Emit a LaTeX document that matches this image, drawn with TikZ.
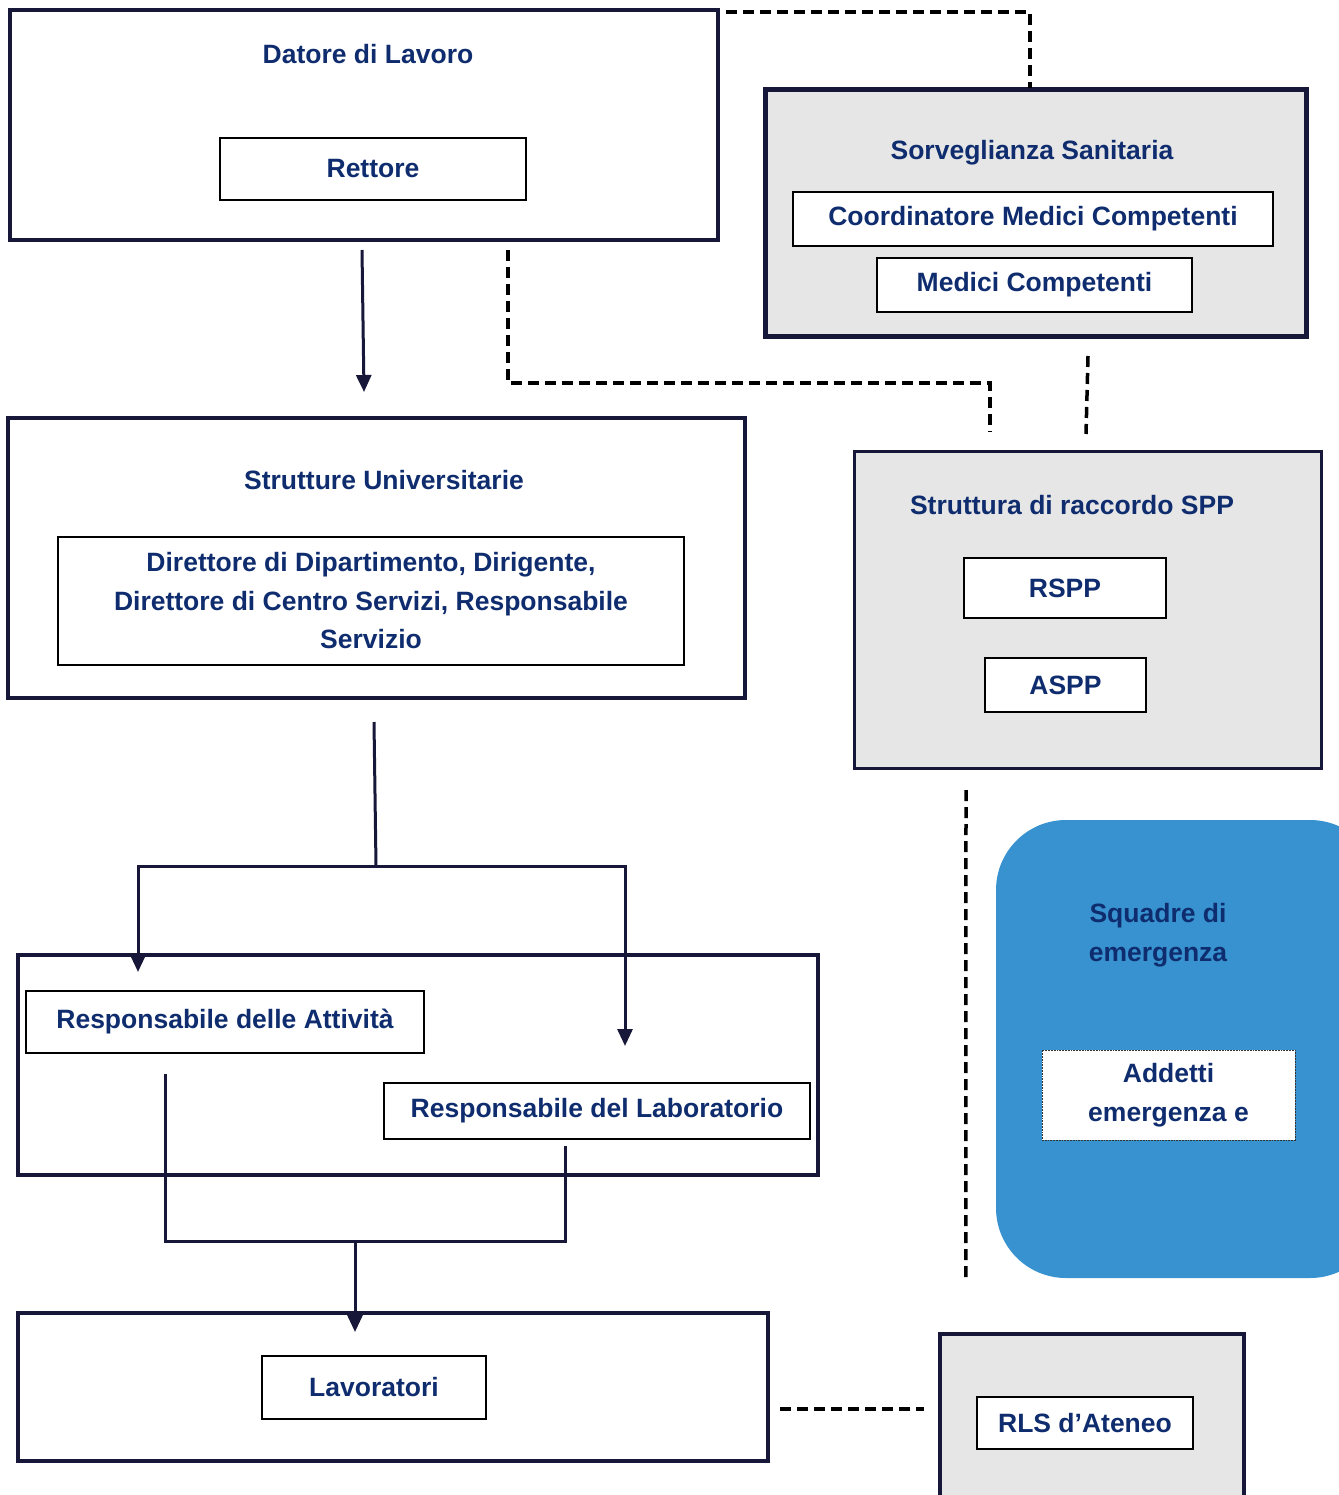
\documentclass[tikz,border=0pt]{standalone}
\usepackage{fontspec}
\setmainfont{Liberation Sans}
\usetikzlibrary{arrows.meta}

\definecolor{navy}{HTML}{0F2D6E}
\definecolor{boxline}{HTML}{17173A}
\definecolor{greyfill}{HTML}{E6E6E6}
\definecolor{squadblue}{HTML}{3792CF}

\newcommand{\lbl}{\bfseries\fontsize{26.5}{38.5}\selectfont}

\tikzset{
	outer/.style={draw=boxline, line width=3.5pt, inner sep=0pt, outer sep=0pt},
	inner/.style={draw=black, line width=1.8pt, fill=white, inner sep=0pt, outer sep=0pt, text=navy, font=\lbl, align=center},
	title/.style={text=navy, font=\lbl, align=center, inner sep=0pt},
	link/.style={-{Triangle[width=15pt,length=17pt]}, line width=3pt, draw=boxline},
	wire/.style={line width=3pt, draw=boxline},
	dashlink/.style={line width=3.5pt, dash pattern=on 11pt off 6pt},
}

\begin{document}
\begin{tikzpicture}[x=1pt,y=-1pt]
\useasboundingbox (0,0) rectangle (1338,1495);

%containers
\node[outer, minimum width=708pt, minimum height=230pt] (datore) at (364,125){};
\node[outer, fill=greyfill, line width=5pt, minimum width=541pt, minimum height=246pt] (sorveglianza) at (1035.5,213){};
\node[outer, minimum width=737pt, minimum height=280pt] (strutture) at (376.5,558){};
\node[outer, fill=greyfill, line width=3pt, minimum width=467pt, minimum height=317pt] (raccordo) at (1087.5,609.5){};
\node[outer, minimum width=800pt, minimum height=220pt] (responsabili) at (418,1065){};
\node[outer, minimum width=750pt, minimum height=148pt] (lavoratoribox) at (393,1387){};
\node[outer, fill=greyfill, minimum width=304pt, minimum height=196pt] (rlsbox) at (1092,1432){};
\node[fill=squadblue, rounded corners=70pt, inner sep=0pt, minimum width=384pt, minimum height=458pt] (squadre) at (1188,1049){};

%titles
\node[title] (datoretitle) at (368,54){Datore di Lavoro};
\node[title] (sorvtitle) at (1032,153){Sorveglianza Sanitaria};
\node[title] (struttitle) at (384,480){Strutture Universitarie};
\node[title] (raccordotitle) at (1072,505){Struttura di raccordo SPP};
\node[title] (squadretitle) at (1158,935){Squadre di\\emergenza};

%inner boxes
\node[inner, minimum width=306pt, minimum height=62pt] (rettore) at (373,169){Rettore};
\node[inner, minimum width=480pt, minimum height=54pt] (coordinatore) at (1033,219){Coordinatore Medici Competenti};
\node[inner, minimum width=315pt, minimum height=54pt] (medici) at (1034.5,285){Medici Competenti};
\node[inner, minimum width=626pt, minimum height=128pt] (direttori) at (371,601){Direttore di Dipartimento, Dirigente,\\Direttore di Centro Servizi, Responsabile\\Servizio};
\node[inner, minimum width=202pt, minimum height=60pt] (rspp) at (1065,588){RSPP};
\node[inner, minimum width=161pt, minimum height=54pt] (aspp) at (1065.5,685){ASPP};
\node[inner, minimum width=398pt, minimum height=62pt] (attivita) at (225,1022){Responsabile delle Attivit\`a};
\node[inner, minimum width=426pt, minimum height=56pt] (laboratorio) at (597,1111){Responsabile del Laboratorio};
\node[inner, minimum width=224pt, minimum height=63pt] (lavoratori) at (374,1387.5){Lavoratori};
\node[inner, minimum width=216pt, minimum height=52pt] (rls) at (1085,1423){RLS d’Ateneo};
\node[inner, draw=black!80, densely dotted, line width=1pt, minimum width=253pt, minimum height=90pt] (addetti) at (1168.5,1095){Addetti\\emergenza e};

%hierarchy
\draw[link] ([shift={(-2,10)}]datore.south) -- ([shift={(-12.5,-26)}]strutture.north);
\coordinate (split) at (376,866);
\draw[wire] ([shift={(-2.5,24)}]strutture.south) -- (split);
\draw[link] (split) -| ([shift={(-87,-19)}]attivita.north);
\draw[link] (split) -| ([shift={(28,-37)}]laboratorio.north);
\coordinate (merge) at (355,1241);
\draw[wire] ([shift={(-60,21)}]attivita.south) |- (merge) -| ([shift={(-32,7)}]laboratorio.south);
\draw[link] (merge) -- ([shift={(-38,19)}]lavoratoribox.north);

%dashed relations
\draw[dashlink] ([shift={(8,2)}]datore.north east) -| ([shift={(-5.5,-2)}]sorveglianza.north);
\draw[dashlink] ([shift={(144,10)}]datore.south) -- ++(0,133) -| ([shift={(-97.5,-19)}]raccordo.north);
\draw[dashlink] ([shift={(52.5,20)}]sorveglianza.south) -- ([shift={(-1.5,-17)}]raccordo.north);
\draw[dashlink] ([shift={(-121.5,22)}]raccordo.south) -- ([shift={(-30,4)}]squadre.south west);
\draw[dashlink] ([shift={(12,22)}]lavoratoribox.east) -- ([shift={(-16,-23)}]rlsbox.west);
\end{tikzpicture}
\end{document}
